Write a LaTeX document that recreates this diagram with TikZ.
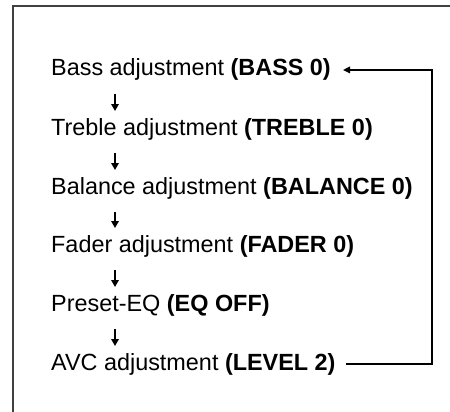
\documentclass[tikz,border=0pt]{standalone}
\usepackage{fontspec}
\setmainfont{Liberation Sans}
\usetikzlibrary{arrows.meta}
\begin{document}
\begin{tikzpicture}[x=1pt,y=-1pt,
  lbl/.style={anchor=base west,inner sep=0pt,font=\fontsize{23.4}{28}\selectfont},
  flow/.style={line width=2pt,-{Triangle[length=7pt,width=7.5pt]}},
  loopline/.style={line width=1.6pt,-{Triangle[length=7pt,width=6.5pt]}},
  frame/.style={line width=2pt,draw=black!75}]
\useasboundingbox (0,0) rectangle (450,412);
\draw[frame] (13,420) -- (13,6.5) -- (460,6.5);
\node[lbl] (bass) at (51,76) {Bass adjustment \textbf{(BASS 0)}};
\node[lbl] (treble) at (51,135) {Treble adjustment \textbf{(TREBLE 0)}};
\node[lbl] (balance) at (51,194) {Balance adjustment \textbf{(BALANCE 0)}};
\node[lbl] (fader) at (51,252) {Fader adjustment \textbf{(FADER 0)}};
\node[lbl] (eq) at (51,311) {Preset-EQ \textbf{(EQ OFF)}};
\node[lbl] (avc) at (51,370) {AVC adjustment \textbf{(LEVEL 2)}};
\foreach \a/\b in {bass/treble,treble/balance,balance/fader,fader/eq,eq/avc}
  \draw[flow] ([shift={(64pt,-18pt)}]\a.base west) -- ([shift={(64pt,24pt)}]\b.base west);
\coordinate (rt) at (432,0);
\draw[loopline] ([xshift=10pt]avc.east) -| (rt |- bass.east) -- ([xshift=12pt]bass.east);
\end{tikzpicture}
\end{document}
